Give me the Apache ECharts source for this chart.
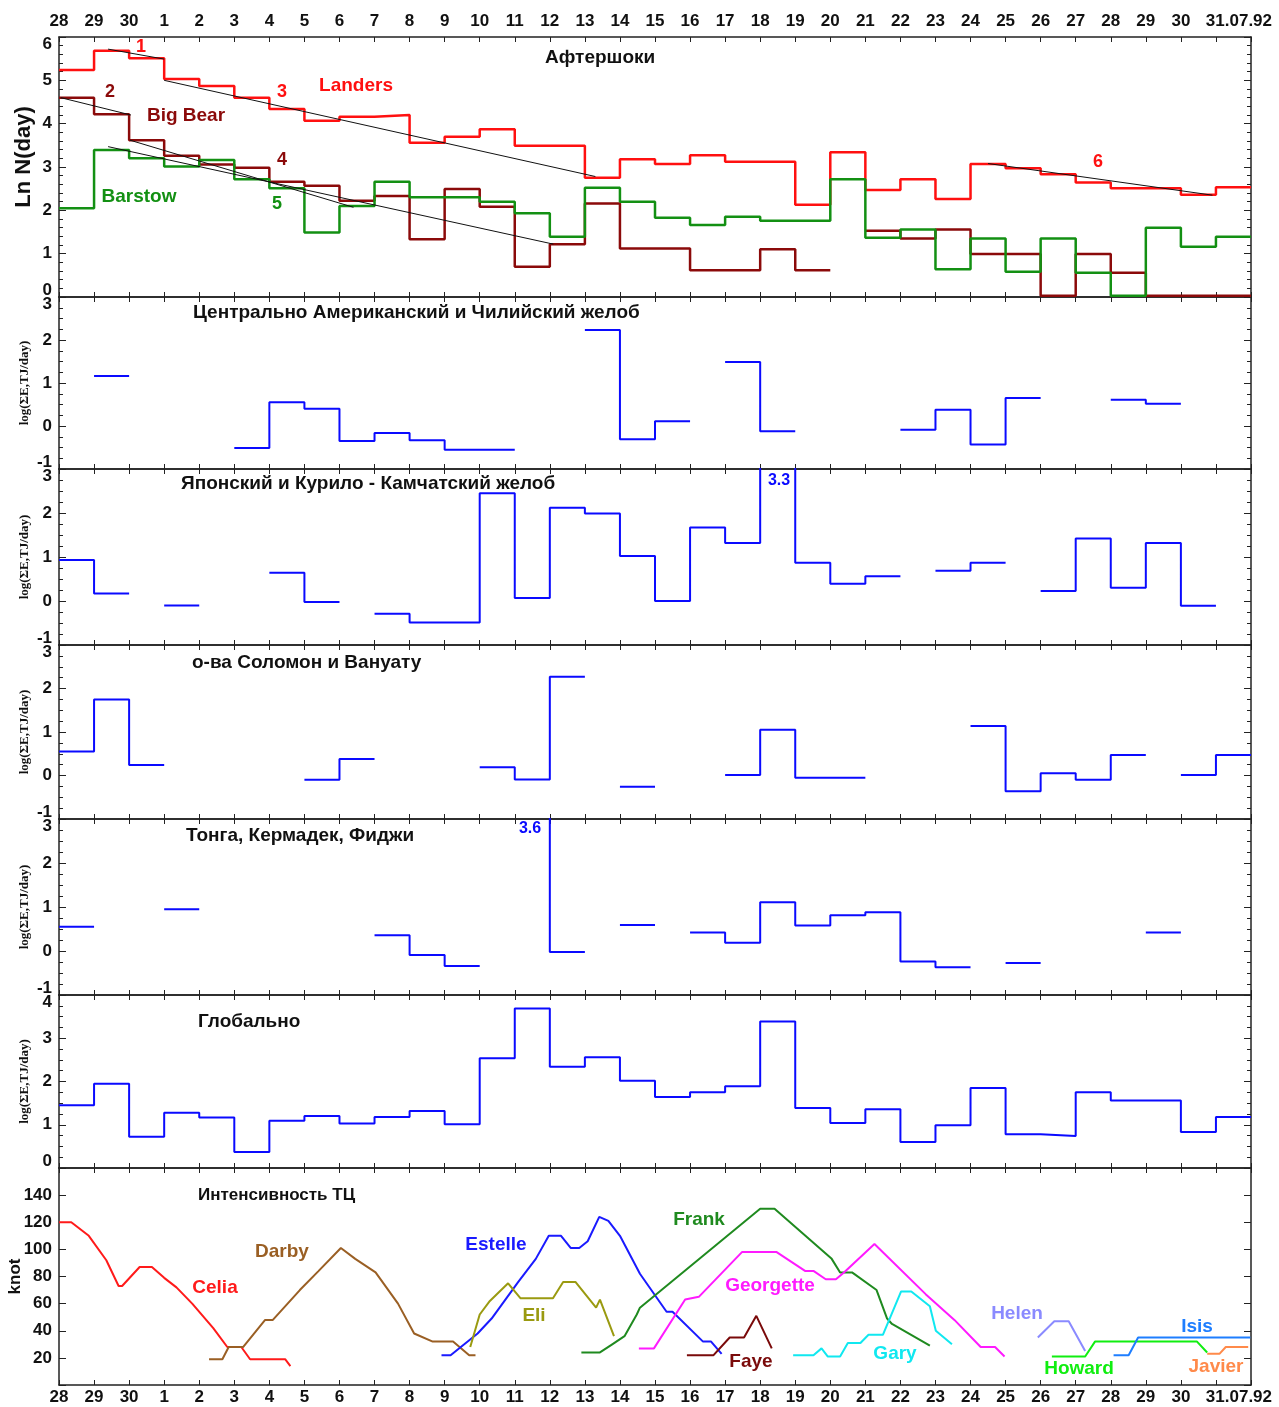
<!DOCTYPE html>
<html>
<head>
<meta charset="utf-8">
<title>Афтершоки, энергия землетрясений и интенсивность ТЦ, 28.06–31.07.92</title>
<script src="https://cdn.jsdelivr.net/npm/echarts@6/dist/echarts.min.js"></script>
<style>
html, body { margin: 0; padding: 0; background: #fff; }
#chart { width: 1279px; height: 1407px; }
</style>
</head>
<body>
<div id="chart"></div>
<script>
// ось X: индекс дня, 0 = 28.06.92 ... 33 = 31.07.92
const dayLabels = ['28','29','30','1','2','3','4','5','6','7','8','9','10','11','12','13','14','15','16','17','18','19','20','21','22','23','24','25','26','27','28','29','30','31.07.92']

// Ln N(day) афтершоков, по суткам
const landers = [5.24, 5.68, 5.51, 5.03, 4.87, 4.6, 4.34, 4.07, 4.16, 4.2, 3.56, 3.7, 3.87, 3.49, 3.49, 2.75, 3.18, 3.07, 3.27, 3.12, 3.12, 2.13, 3.34, 2.47, 2.72, 2.26, 3.07, 2.97, 2.83, 2.64, 2.51, 2.51, 2.36, 2.53]
const bigBear = [4.6, 4.22, 3.62, 3.26, 3.06, 2.98, 2.66, 2.57, 2.22, 2.33, 1.33, 2.49, 2.08, 0.7, 1.22, 2.16, 1.12, 1.12, 0.62, 0.62, 1.1, 0.62, null, 1.53, 1.35, 1.56, 0.99, 0.99, 0.03, 0.99, 0.56, 0.03, 0.03, 0.03]
const barstow = [2.05, 3.39, 3.2, 3.01, 3.16, 2.72, 2.51, 1.49, 2.1, 2.66, 2.3, 2.3, 2.2, 1.93, 1.39, 2.52, 2.2, 1.83, 1.66, 1.85, 1.76, 1.76, 2.72, 1.37, 1.56, 0.64, 1.35, 0.58, 1.35, 0.56, 0.03, 1.6, 1.16, 1.39]

// линии затухания 1..6
const fit1 = [[1.4, 5.72], [3.0, 5.49]]
const fit2 = [[0.05, 4.6], [2.05, 4.2]]
const fit3 = [[3.0, 5.0], [15.3, 2.78]]
const fit4 = [[2.02, 3.62], [8.4, 2.07]]
const fit5 = [[1.4, 3.47], [14.1, 1.22]]
const fit6 = [[26.5, 3.08], [32.9, 2.35]]

// log(ΣE, TJ/day) по регионам
const centralAm = [null, 1.16, null, null, null, -0.51, 0.55, 0.4, -0.35, -0.16, -0.33, -0.55, -0.55, null, null, 2.23, -0.31, 0.11, null, 1.49, -0.12, null, null, null, -0.09, 0.38, -0.43, 0.65, null, null, 0.61, 0.52, null, null]
const japan = [0.93, 0.17, null, -0.1, null, null, 0.64, -0.02, null, -0.29, -0.49, -0.49, 2.45, 0.07, 2.12, 1.99, 1.02, 0.0, 1.67, 1.32, 3.3, 0.87, 0.39, 0.56, null, 0.69, 0.87, null, 0.23, 1.42, 0.3, 1.32, -0.11, null]
const solomon = [0.55, 1.75, 0.24, null, null, null, null, -0.1, 0.38, null, null, null, 0.19, -0.09, 2.27, null, -0.26, null, null, 0.01, 1.05, -0.05, -0.05, null, null, null, 1.14, -0.36, 0.05, -0.1, 0.47, null, 0.01, 0.47]
const tonga = [0.55, null, null, 0.95, null, null, null, null, null, 0.36, -0.09, -0.34, null, 3.6, -0.02, null, 0.59, null, 0.42, 0.19, 1.11, 0.58, 0.81, 0.88, -0.24, -0.37, null, -0.27, null, null, null, 0.42, null, null]
const globalE = [1.45, 1.95, 0.72, 1.28, 1.17, 0.37, 1.09, 1.2, 1.03, 1.18, 1.32, 1.01, 2.54, 3.69, 2.34, 2.56, 2.02, 1.64, 1.75, 1.89, 3.39, 1.39, 1.04, 1.36, 0.6, 0.99, 1.85, 0.78, 0.74, 1.75, 1.56, 1.56, 0.83, 1.18]

// интенсивность ТЦ, knot: [индекс дня, скорость]
const celia = [[0, 120], [0.35, 120], [0.85, 110], [1.35, 92], [1.7, 73], [1.8, 73], [2.3, 87], [2.65, 87], [3.0, 79], [3.35, 72], [3.8, 60], [4.4, 42], [4.8, 28], [5.2, 28], [5.45, 19], [6.45, 19], [6.6, 14]]
const darby = [[4.28, 19], [4.66, 19], [4.84, 28], [5.25, 28], [5.88, 48], [6.1, 48], [6.87, 70], [7.4, 84], [8.04, 101], [8.45, 93], [9.03, 83], [9.67, 60], [10.13, 38], [10.66, 32], [11.24, 32], [11.7, 22], [11.88, 22]]
const estelle = [[10.91, 22], [11.17, 22], [11.94, 38], [12.34, 49], [13.1, 76], [13.6, 93], [13.97, 110], [14.32, 110], [14.6, 101], [14.84, 101], [15.08, 106], [15.41, 124], [15.67, 121], [16.0, 110], [16.57, 82], [17.33, 54], [17.5, 54], [18.37, 32], [18.6, 32], [18.9, 23]]
const eli = [[11.73, 28], [12.0, 52], [12.29, 62], [12.81, 75], [13.16, 64], [14.09, 64], [14.38, 76], [14.73, 76], [15.32, 57], [15.43, 63], [15.83, 36]]
const frank = [[14.9, 24], [15.43, 24], [15.78, 30], [16.13, 36], [16.48, 52], [16.57, 57], [20.0, 130], [20.41, 130], [22.04, 93], [22.28, 83], [22.62, 83], [23.32, 70], [23.62, 49], [23.76, 45], [24.84, 29]]
const georgette = [[16.54, 27], [16.97, 27], [17.86, 63], [18.25, 65], [19.48, 98], [20.47, 98], [21.29, 84], [21.53, 84], [21.87, 78], [22.16, 78], [22.39, 83], [23.26, 104], [24.72, 67], [25.54, 48], [26.29, 28], [26.7, 28], [26.97, 21]]
const faye = [[17.91, 22], [18.67, 22], [19.13, 35], [19.54, 35], [19.89, 51], [20.33, 27]]
const gary = [[20.94, 22], [21.52, 22], [21.75, 27], [21.93, 21], [22.28, 21], [22.5, 31], [22.86, 31], [23.09, 37], [23.5, 37], [24.02, 69], [24.31, 69], [24.84, 58], [25.01, 40], [25.47, 30]]
const helen = [[27.92, 35], [28.39, 47], [28.8, 47], [29.27, 25]]
const howard = [[28.32, 21], [29.27, 21], [29.55, 32], [32.46, 32], [32.75, 24]]
const isis = [[30.08, 22], [30.51, 22], [30.78, 35], [33.98, 35]]
const javier = [[32.75, 23], [33.1, 23], [33.28, 28], [33.92, 28]]

const FONT = "'Liberation Sans', Arial, sans-serif"
const LOGE = 'log(ΣE,TJ/day)'
const BLUE = '#0a0aff'
const AXIS = '#222'

const logName = { fontFamily: "'Liberation Serif', serif", fontWeight: 'bold', fontSize: 13, color: '#111' }
const panels = [
    { top: 37,   height: 260, min: 0,  max: 6,   interval: 1,  minor: 5, name: 'Ln N(day)', nameGap: 24,
      nameStyle: { fontFamily: FONT, fontWeight: 'bold', fontSize: 22, color: '#111', padding: [0, 0, 0, 20] } },
    { top: 297,  height: 172, min: -1, max: 3,   interval: 1,  minor: 4, name: LOGE, nameGap: 28, nameStyle: logName },
    { top: 469,  height: 176, min: -1, max: 3,   interval: 1,  minor: 4, name: LOGE, nameGap: 28, nameStyle: logName },
    { top: 645,  height: 174, min: -1, max: 3,   interval: 1,  minor: 4, name: LOGE, nameGap: 28, nameStyle: logName },
    { top: 819,  height: 176, min: -1, max: 3,   interval: 1,  minor: 4, name: LOGE, nameGap: 28, nameStyle: logName },
    { top: 995,  height: 173, min: 0,  max: 4,   interval: 1,  minor: 4, name: LOGE, nameGap: 28, nameStyle: logName },
    { top: 1168, height: 217, min: 0,  max: 160, interval: 20, minor: 0, name: 'knot', nameGap: 35,
      nameStyle: { fontFamily: FONT, fontWeight: 'bold', fontSize: 17, color: '#111' } }
]

const labelFont = { fontFamily: FONT, fontWeight: 'bold', fontSize: 17, color: '#111' }

// ступеньки: каждое значение держится весь день
function steps (vals) {
    const out = []
    vals.forEach((v, i) => {
        if (v == null) { out.push([i, '-']); return }
        out.push([i, v], [i + 1, v])
    })
    return out
}

function dayFmt (v) {
    const s = dayLabels[v]
    if (s === undefined) return ''
    return v === dayLabels.length - 1 ? '{last|' + s + '}' : '{d|' + s + '}'
}

function yFmt (p) {
    return v => {
        if (p.minor === 0) return (v === p.min || v === p.max) ? '' : '{n|' + v + '}'
        if (v === p.max) return '{hi|' + v + '}'
        if (v === p.min) return '{lo|' + v + '}'
        return '{n|' + v + '}'
    }
}

const grid = []
const xAxis = []
const yAxis = []
panels.forEach((p, i) => {
    grid.push({ left: 59, right: 28, top: p.top, height: p.height, outerBoundsMode: 'none', containLabel: false })
    ;['bottom', 'top'].forEach(pos => {
        const withLabels = (pos === 'top' && i === 0) || (pos === 'bottom' && i === panels.length - 1)
        xAxis.push({
            type: 'value', gridIndex: i, position: pos, min: 0, max: 34, interval: 1,
            axisLine: { show: true, onZero: false, lineStyle: { color: AXIS, width: 1.5 } },
            axisTick: { show: true, inside: true, length: 5, lineStyle: { color: AXIS } },
            splitLine: { show: false },
            axisLabel: {
                show: withLabels, margin: pos === 'top' ? 7 : 4, formatter: dayFmt,
                rich: { d: labelFont, last: Object.assign({ padding: [0, 0, 0, 46] }, labelFont) }
            }
        })
    })
    const lineStyle = { color: AXIS, width: 1.5 }
    yAxis.push({
        type: 'value', gridIndex: i, position: 'left', min: p.min, max: p.max, interval: p.interval,
        name: p.name, nameLocation: 'middle', nameGap: p.nameGap, nameRotate: 90, nameTextStyle: p.nameStyle,
        nameMoveOverlap: false,
        axisLine: { show: true, onZero: false, lineStyle },
        axisTick: { show: true, inside: true, length: 7, lineStyle: { color: AXIS } },
        minorTick: { show: p.minor > 0, splitNumber: p.minor || 5, length: 4, lineStyle: { color: AXIS } },
        splitLine: { show: false },
        axisLabel: {
            margin: 7, formatter: yFmt(p),
            rich: {
                n: labelFont,
                hi: Object.assign({ padding: [14, 0, 0, 0] }, labelFont),
                lo: Object.assign({ padding: [0, 0, 14, 0] }, labelFont)
            }
        }
    })
    yAxis.push({
        type: 'value', gridIndex: i, position: 'right', min: p.min, max: p.max, interval: p.interval,
        axisLine: { show: true, onZero: false, lineStyle },
        axisTick: { show: true, inside: true, length: 7, lineStyle: { color: AXIS } },
        minorTick: { show: p.minor > 0, splitNumber: p.minor || 5, length: 4, lineStyle: { color: AXIS } },
        splitLine: { show: false },
        axisLabel: { show: false }
    })
})

function line (panel, data, color, width, z) {
    return {
        type: 'line', xAxisIndex: panel * 2, yAxisIndex: panel * 2, data,
        symbol: 'none', showSymbol: false, connectNulls: false, clip: true, silent: true,
        lineStyle: { color, width }, z: z || 2, animation: false
    }
}

const series = [
    line(0, steps(landers), '#ff1010', 2.5),
    line(0, steps(bigBear), '#8b0a0a', 2.5),
    line(0, steps(barstow), '#139013', 2.5),
    ...[fit1, fit2, fit3, fit4, fit5, fit6].map(f => line(0, f, '#111', 1, 5)),
    line(1, steps(centralAm), BLUE, 2),
    line(2, steps(japan), BLUE, 2),
    line(3, steps(solomon), BLUE, 2),
    line(4, steps(tonga), BLUE, 2),
    line(5, steps(globalE), BLUE, 2),
    line(6, celia, '#ff1a1a', 2),
    line(6, darby, '#9a5f24', 2),
    line(6, estelle, '#1a1aff', 2),
    line(6, eli, '#9a9a10', 2),
    line(6, frank, '#1f8a1f', 2),
    line(6, georgette, '#ff1aff', 2),
    line(6, faye, '#7a0a0a', 2),
    line(6, gary, '#10e8f0', 2),
    line(6, helen, '#8a8aff', 2),
    line(6, howard, '#10ee10', 2),
    line(6, isis, '#1e7eff', 2),
    line(6, javier, '#ff8a4a', 2)
]

function txt (x, y, text, color, size, align) {
    return {
        type: 'text', x, y, silent: true, z: 100,
        style: {
            text, fill: color, fontFamily: FONT, fontWeight: 'bold', fontSize: size,
            align: align || 'center', verticalAlign: 'middle',
            textAlign: align || 'center', textVerticalAlign: 'middle'
        }
    }
}

const graphic = [
    // заголовки панелей
    txt(545, 58, 'Афтершоки', '#111', 19, 'left'),
    txt(193, 313, 'Центрально Американский и Чилийский желоб', '#111', 19, 'left'),
    txt(181, 484, 'Японский и Курило - Камчатский желоб', '#111', 19, 'left'),
    txt(192, 663, 'о-ва Соломон и Вануату', '#111', 19, 'left'),
    txt(186, 836, 'Тонга, Кермадек, Фиджи', '#111', 19, 'left'),
    txt(198, 1022, 'Глобально', '#111', 19, 'left'),
    txt(198, 1195, 'Интенсивность ТЦ', '#111', 17, 'left'),
    // афтершоки
    txt(356, 86, 'Landers', '#ff1010', 19),
    txt(186, 116, 'Big Bear', '#8b0a0a', 19),
    txt(139, 197, 'Barstow', '#139013', 19),
    txt(141, 47, '1', '#ff1010', 18),
    txt(110, 92, '2', '#8b0a0a', 18),
    txt(282, 92, '3', '#ff1010', 18),
    txt(282, 160, '4', '#8b0a0a', 18),
    txt(277, 204, '5', '#139013', 18),
    txt(1098, 162, '6', '#ff1010', 18),
    // значения за пределами шкалы
    txt(779, 481, '3.3', BLUE, 16),
    txt(530, 829, '3.6', BLUE, 16),
    // циклоны
    txt(215, 1288, 'Celia', '#ff1a1a', 19),
    txt(282, 1252, 'Darby', '#9a5f24', 19),
    txt(496, 1245, 'Estelle', '#1a1aff', 19),
    txt(534, 1316, 'Eli', '#9a9a10', 19),
    txt(699, 1220, 'Frank', '#1f8a1f', 19),
    txt(770, 1286, 'Georgette', '#ff1aff', 19),
    txt(751, 1362, 'Faye', '#7a0a0a', 19),
    txt(895, 1354, 'Gary', '#10e8f0', 19),
    txt(1017, 1314, 'Helen', '#8a8aff', 19),
    txt(1079, 1369, 'Howard', '#10ee10', 19),
    txt(1197, 1327, 'Isis', '#1e7eff', 19),
    txt(1216, 1367, 'Javier', '#ff8a4a', 19)
]

const chart = echarts.init(document.getElementById('chart'))
chart.setOption({
    animation: false,
    backgroundColor: '#fff',
    grid, xAxis, yAxis, series, graphic
})
</script>
</body>
</html>
